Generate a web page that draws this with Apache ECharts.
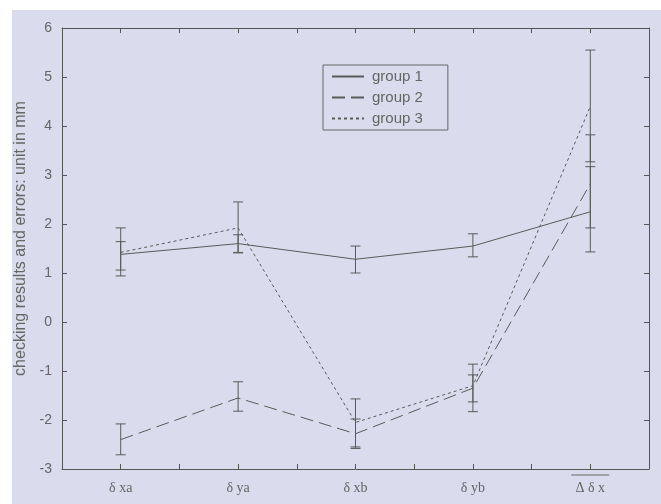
<!DOCTYPE html>
<html><head><meta charset="utf-8">
<script src="https://cdn.jsdelivr.net/npm/echarts@6/dist/echarts.min.js"></script>
<style>
html,body{margin:0;padding:0;background:#ffffff;}
#c{position:absolute;left:12px;top:10px;width:649px;height:494px;background:#dadced;}
</style></head>
<body><div id="c"></div>
<script>
var categories = ['δ xa', 'δ ya', 'δ xb', 'δ yb', 'Δ δ x'];
var yTicks = [-3, -2, -1, 0, 1, 2, 3, 4, 5, 6];
var seriesNames = ['group 1', 'group 2', 'group 3'];
var g1 = [1.38, 1.6, 1.28, 1.55, 2.25];
var g1Low = [0.94, 1.42, 1.0, 1.33, 1.43];
var g1High = [1.92, 1.78, 1.55, 1.8, 3.17];
var g2 = [-2.4, -1.55, -2.28, -1.35, 2.82];
var g2Low = [-2.71, -1.82, -2.58, -1.63, 1.92];
var g2High = [-2.08, -1.22, -1.98, -1.08, 3.82];
var g3 = [1.42, 1.92, -2.05, -1.3, 4.4];
var g3Low = [1.06, 1.41, -2.55, -1.83, 3.27];
var g3High = [1.64, 2.45, -1.57, -0.86, 5.55];

var lineColor = '#5a5a5a';
var textColor = '#666';
var sans = 'Liberation Sans, Arial, sans-serif';
var serif = 'Liberation Serif, Times New Roman, serif';

function pts(vals){ return vals.map(function(v,i){ return [i+1, v]; }); }
function errData(lo, hi){ return lo.map(function(l,i){ return [i+1, l, hi[i]]; }); }

function errSeries(name, lo, hi){
  return {
    type: 'custom', name: name + ' err', xAxisIndex: 0, yAxisIndex: 0,
    data: errData(lo, hi), z: 3,
    renderItem: function(params, api){
      var x = api.value(0);
      var a = api.coord([x, api.value(1)]);
      var b = api.coord([x, api.value(2)]);
      var w = 5;
      var st = {stroke: lineColor, lineWidth: 1};
      return {type: 'group', children: [
        {type: 'line', shape: {x1: a[0], y1: a[1], x2: b[0], y2: b[1]}, style: st},
        {type: 'line', shape: {x1: a[0]-w, y1: a[1], x2: a[0]+w, y2: a[1]}, style: st},
        {type: 'line', shape: {x1: b[0]-w, y1: b[1], x2: b[0]+w, y2: b[1]}, style: st}
      ]};
    }
  };
}

var chart = echarts.init(document.getElementById('c'), null, {renderer: 'canvas'});
var axisLineStyle = {color: '#555', width: 1};
chart.setOption({
  animation: false,
  grid: {left: 50, right: 12, top: 18, bottom: 35, containLabel: false, outerBoundsMode: 'none'},
  legend: {
    data: seriesNames, orient: 'vertical', left: 311, top: 55,
    itemWidth: 32, itemHeight: 14, itemGap: 6,
    borderColor: '#666', borderWidth: 1, padding: [4, 25, 4, 8],
    backgroundColor: '#dadced',
    itemStyle: {opacity: 0},
    textStyle: {color: textColor, fontSize: 15, fontFamily: sans, padding: [0, 0, 0, 3]}
  },
  xAxis: [{
    type: 'value', min: 0.5, max: 5.5, interval: 0.5,
    axisLine: {show: true, onZero: false, lineStyle: axisLineStyle},
    axisTick: {show: true, inside: true, length: 5, lineStyle: axisLineStyle},
    splitLine: {show: false},
    axisLabel: {
      color: textColor, fontSize: 14, fontFamily: serif, margin: 5,
      showMinLabel: true, showMaxLabel: true,
      formatter: function(v){
        var r = Math.round(v);
        if (Math.abs(v - r) > 1e-6 || r < 1 || r > categories.length) return '';
        if (r === categories.length) return '{o| }\n{u|' + categories[r-1] + '}';
        return '{t|' + categories[r-1] + '}';
      },
      rich: {
        o: {width: 38, height: 1, backgroundColor: '#666', fontSize: 1, lineHeight: 2},
        t: {color: textColor, fontSize: 14, fontFamily: serif, lineHeight: 28},
        u: {color: textColor, fontSize: 14, fontFamily: serif, lineHeight: 24}
      }
    }
  }, {
    type: 'value', position: 'top', min: 0.5, max: 5.5, interval: 0.5,
    axisLine: {show: true, onZero: false, lineStyle: axisLineStyle},
    axisTick: {show: true, inside: true, length: 5, lineStyle: axisLineStyle},
    axisLabel: {show: false}, splitLine: {show: false}
  }],
  yAxis: [{
    type: 'value', min: yTicks[0], max: yTicks[yTicks.length-1], interval: 1,
    name: 'checking results and errors: unit in mm', nameLocation: 'middle', nameGap: 27,
    nameTextStyle: {color: textColor, fontSize: 16, fontFamily: sans, padding: [0, 0, 0, 20]},
    axisLine: {show: true, onZero: false, lineStyle: axisLineStyle},
    axisTick: {show: true, inside: true, length: 5, lineStyle: axisLineStyle},
    splitLine: {show: false},
    axisLabel: {color: textColor, fontSize: 14, fontFamily: sans, margin: 10}
  }, {
    type: 'value', position: 'right', min: yTicks[0], max: yTicks[yTicks.length-1], interval: 1,
    axisLine: {show: true, onZero: false, lineStyle: axisLineStyle},
    axisTick: {show: true, inside: true, length: 5, lineStyle: axisLineStyle},
    axisLabel: {show: false}, splitLine: {show: false}
  }],
  series: [
    {name: seriesNames[0], type: 'line', data: pts(g1), symbol: 'none', z: 4,
     lineStyle: {color: lineColor, width: 1, type: 'solid'}, itemStyle: {color: lineColor}},
    {name: seriesNames[1], type: 'line', data: pts(g2), symbol: 'none', z: 4,
     lineStyle: {color: lineColor, width: 1, type: [13, 6]}, itemStyle: {color: lineColor}},
    {name: seriesNames[2], type: 'line', data: pts(g3), symbol: 'none', z: 4,
     lineStyle: {color: lineColor, width: 1, type: [3, 3]}, itemStyle: {color: lineColor}},
    errSeries(seriesNames[0], g1Low, g1High),
    errSeries(seriesNames[1], g2Low, g2High),
    errSeries(seriesNames[2], g3Low, g3High)
  ]
});
</script></body></html>
